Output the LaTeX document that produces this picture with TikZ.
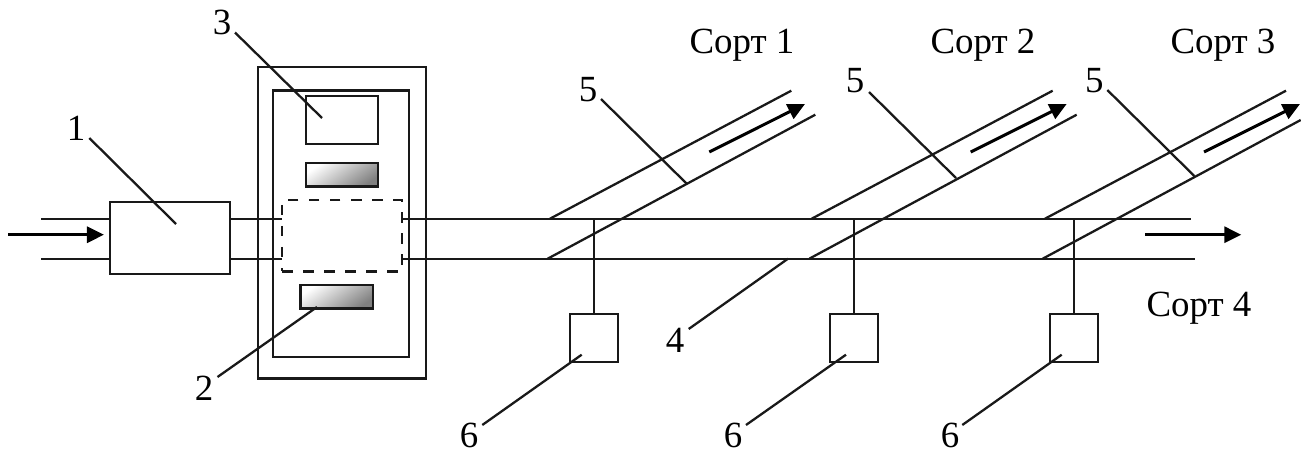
\documentclass[tikz,border=0pt]{standalone}
\usepackage{fontspec}
\usepackage{xcolor}
\setmainfont{Liberation Serif}
\usetikzlibrary{arrows.meta}
\tikzset{
    line/.style={line width=0.65pt, black!90},
    flow/.style={line width=0.85pt, black, -{Triangle[length=0.17cm,width=0.16cm]}},
    unit/.style={draw=black!90, line width=0.7pt, inner sep=0, outer sep=0},
    gauge/.style={unit, shading=axis, top color=white, bottom color=black!50, shading angle=35},
    lbl/.style={anchor=base, inner sep=0, font=\fontsize{10.5pt}{12pt}\selectfont}
}
\begin{document}
\begin{tikzpicture}
                \useasboundingbox (0, 0) rectangle (13.01, -4.5);
                % boxes
                \node[unit, minimum width=1.68cm, minimum height=3.115cm] (outer) at (3.42, -2.228) {};
                \node[unit, minimum width=1.36cm, minimum height=2.665cm] (inner) at (3.41, -2.238) {};
                \node[unit, minimum width=1.205cm, minimum height=0.72cm] (feeder) at (1.70, -2.38) {};
                \node[unit, minimum width=0.72cm, minimum height=0.48cm] (camera) at (3.42, -1.20) {};
                \node[gauge, minimum width=0.72cm, minimum height=0.235cm] (lampt) at (3.42, -1.747) {};
                \node[gauge, minimum width=0.725cm, minimum height=0.235cm] (lampb) at (3.367, -2.967) {};
                \node[unit, dashed, minimum width=1.20cm, minimum height=0.715cm] (zone) at (3.42, -2.357) {};
                \node[unit, minimum width=0.48cm, minimum height=0.48cm] (gatea) at (5.94, -3.38) {};
                \node[unit, minimum width=0.485cm, minimum height=0.48cm] (gateb) at (8.54, -3.38) {};
                \node[unit, minimum width=0.485cm, minimum height=0.48cm] (gatec) at (10.74, -3.38) {};
                % trunk
                \coordinate (int) at (0.41, -2.187);
                \coordinate (inb) at (0.41, -2.587);
                \coordinate (zlt) at (2.82, -2.187);
                \coordinate (zlb) at (2.82, -2.587);
                \coordinate (zrt) at (4.02, -2.187);
                \coordinate (zrb) at (4.02, -2.587);
                \coordinate (endt) at (11.907, -2.187);
                \coordinate (endb) at (11.947, -2.587);
                \coordinate (fl) at (1.10, -2.187);
                \coordinate (flb) at (1.10, -2.587);
                \coordinate (fr) at (2.305, -2.187);
                \coordinate (frb) at (2.305, -2.587);
                \draw[line]
                (int) -- (fl)
                (inb) -- (flb)
                (fr) -- (zlt)
                (frb) -- (zlb)
                (zrt) -- (endt)
                (zrb) -- (endb);
                % branches
                \coordinate (ata) at (5.50, -2.187);
                \coordinate (atb) at (7.913, -0.907);
                \coordinate (aba) at (5.477, -2.587);
                \coordinate (abb) at (8.153, -1.147);
                \coordinate (bta) at (8.117, -2.187);
                \coordinate (btb) at (10.527, -0.907);
                \coordinate (bba) at (8.093, -2.587);
                \coordinate (bbb) at (10.767, -1.147);
                \coordinate (cta) at (10.45, -2.187);
                \coordinate (ctb) at (12.86, -0.907);
                \coordinate (cba) at (10.427, -2.587);
                \coordinate (cbb) at (13.007, -1.20);
                \draw[line]
                (ata) -- (atb)
                (aba) -- (abb)
                (bta) -- (btb)
                (bba) -- (bbb)
                (cta) -- (ctb)
                (cba) -- (cbb);
                % sensors
                \coordinate (ja) at (5.94, -2.18);
                \coordinate (jb) at (8.54, -2.18);
                \coordinate (jc) at (10.74, -2.18);
                \draw[line]
                (ja) -- (gatea.north)
                (jb) -- (gateb.north)
                (jc) -- (gatec.north);
                % flows
                \coordinate (fa) at (0.08, -2.347);
                \coordinate (fb) at (1.04, -2.347);
                \coordinate (fc) at (7.093, -1.52);
                \coordinate (fd) at (8.05, -1.04);
                \coordinate (fe) at (9.707, -1.52);
                \coordinate (ff) at (10.667, -1.04);
                \coordinate (fg) at (12.04, -1.52);
                \coordinate (fh) at (13.00, -1.04);
                \coordinate (fi) at (11.45, -2.347);
                \coordinate (fj) at (12.413, -2.347);
                \draw[flow] (fa) -- (fb);
                \draw[flow] (fc) -- (fd);
                \draw[flow] (fe) -- (ff);
                \draw[flow] (fg) -- (fh);
                \draw[flow] (fi) -- (fj);
                % labels
                \node[lbl] (n1) at (0.76, -1.40) {1};
                \node[lbl] (n2) at (2.04, -4.00) {2};
                \node[lbl] (n3) at (2.22, -0.345) {3};
                \node[lbl] (n4) at (6.75, -3.527) {4};
                \node[lbl] (n5a) at (5.88, -1.017) {5};
                \node[lbl] (n5b) at (8.55, -0.927) {5};
                \node[lbl] (n5c) at (10.943, -0.927) {5};
                \node[lbl] (n6a) at (4.69, -4.47) {6};
                \node[lbl] (n6b) at (7.33, -4.47) {6};
                \node[lbl] (n6c) at (9.50, -4.47) {6};
                \node[lbl] (s1) at (7.42, -0.53) {Сорт 1};
                \node[lbl] (s2) at (9.83, -0.53) {Сорт 2};
                \node[lbl] (s3) at (12.23, -0.53) {Сорт 3};
                \node[lbl] (s4) at (11.99, -3.167) {Сорт 4};
                % leaders
                \coordinate (a1) at (0.893, -1.38);
                \coordinate (t1) at (1.76, -2.24);
                \coordinate (a2) at (2.175, -3.77);
                \coordinate (t2) at (3.17, -3.07);
                \coordinate (a3) at (2.35, -0.325);
                \coordinate (t3) at (3.22, -1.18);
                \coordinate (a4) at (6.887, -3.29);
                \coordinate (t4) at (7.88, -2.587);
                \coordinate (a5a) at (6.01, -0.99);
                \coordinate (t5a) at (6.87, -1.84);
                \coordinate (a5b) at (8.69, -0.92);
                \coordinate (t5b) at (9.56, -1.78);
                \coordinate (a5c) at (11.073, -0.90);
                \coordinate (t5c) at (11.943, -1.76);
                \coordinate (a6a) at (4.823, -4.25);
                \coordinate (t6a) at (5.817, -3.547);
                \coordinate (a6b) at (7.46, -4.25);
                \coordinate (t6b) at (8.46, -3.547);
                \coordinate (a6c) at (9.623, -4.25);
                \coordinate (t6c) at (10.617, -3.547);
                \draw[line]
                (a1) -- (t1)
                (a2) -- (t2)
                (a3) -- (t3)
                (a4) -- (t4)
                (a5a) -- (t5a)
                (a5b) -- (t5b)
                (a5c) -- (t5c)
                (a6a) -- (t6a)
                (a6b) -- (t6b)
                (a6c) -- (t6c);
            \end{tikzpicture}
\end{document}
